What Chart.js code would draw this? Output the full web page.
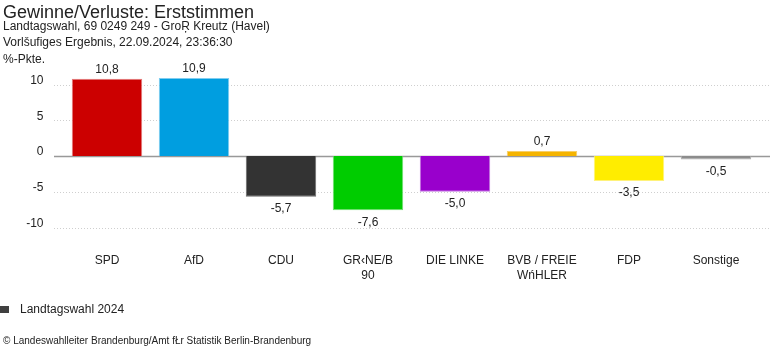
<!DOCTYPE html>
<html>
<head>
<meta charset="utf-8">
<script src="https://cdn.jsdelivr.net/npm/chart.js@4/dist/chart.umd.min.js"></script>
<style>
  body { margin: 0; background: #fff; }
  #wrap { width: 770px; height: 352px; position: relative; }
</style>
</head>
<body>
<div id="wrap"><canvas id="chart"></canvas></div>
<script>
// Chart data
const parties = ['SPD', 'AfD', 'CDU', ['GR‹NE/B', '90'], 'DIE LINKE', ['BVB / FREIE', 'WńHLER'], 'FDP', 'Sonstige'];
const changes = [10.8, 10.9, -5.7, -7.6, -5.0, 0.7, -3.5, -0.5];
const barColors = ['#cc0000', '#009ee0', '#333333', '#00cc00', '#9900cc', '#f5b400', '#ffed00', '#8c8c8c'];
const barBorders = ['#e37a7a', '#7fcdf0', '#6a6a6a', '#70e070', '#c070e0', '#f8cf66', '#fff27a', '#b0b0b0'];
const yTicks = [-10, -5, 0, 5, 10];

const titleText = 'Gewinne/Verluste: Erststimmen';
const subtitleLines = ['Landtagswahl, 69 0249 249 - GroŖ Kreutz (Havel)', 'Vorlšufiges Ergebnis, 22.09.2024, 23:36:30'];
const unitLabel = '%-Pkte.';
const seriesName = 'Landtagswahl 2024';
const sourceText = '© Landeswahlleiter Brandenburg/Amt fŁr Statistik Berlin-Brandenburg';

const FONT = "'Liberation Sans', Arial, sans-serif";

// grid lines run a bit wider than the bars area
const gridPlugin = {
  id: 'grid',
  beforeDatasetsDraw(chart) {
    const ctx = chart.ctx;
    const y = chart.scales.y;
    ctx.save();
    y.ticks.forEach(t => {
      const py = Math.round(y.getPixelForValue(t.value)) + 0.5;
      ctx.beginPath();
      if (t.value === 0) {
        ctx.setLineDash([]);
        ctx.strokeStyle = '#999';
        ctx.lineWidth = 1.5;
      } else {
        ctx.setLineDash([1, 2]);
        ctx.strokeStyle = '#cfcfcf';
        ctx.lineWidth = 1;
      }
      ctx.moveTo(54, py);
      ctx.lineTo(770, py);
      ctx.stroke();
    });
    ctx.restore();
  }
};

// texts: title, value labels, legend, source
const textPlugin = {
  id: 'texts',
  afterDraw(chart) {
    const ctx = chart.ctx;
    ctx.save();
    ctx.fillStyle = '#222';
    ctx.textAlign = 'left';
    ctx.textBaseline = 'alphabetic';
    ctx.font = '18px ' + FONT;
    ctx.fillText(titleText, 3, 17.5);
    ctx.font = '12px ' + FONT;
    ctx.fillText(subtitleLines[0], 3, 29.5);
    ctx.fillText(subtitleLines[1], 3, 45.5);
    ctx.fillText(unitLabel, 3, 63);

    // value labels
    ctx.textAlign = 'center';
    ctx.textBaseline = 'middle';
    const meta = chart.getDatasetMeta(0);
    meta.data.forEach((bar, i) => {
      const v = changes[i];
      const label = v.toFixed(1).replace('.', ',');
      const py = v >= 0 ? bar.y - 9 : bar.y + 12;
      ctx.fillText(label, bar.x, py);
    });

    // legend
    ctx.fillStyle = '#404040';
    ctx.fillRect(0, 306, 9, 7);
    ctx.fillStyle = '#222';
    ctx.textAlign = 'left';
    ctx.fillText(seriesName, 20, 310);

    // source
    ctx.font = '10px ' + FONT;
    ctx.fillText(sourceText, 3, 341);
    ctx.restore();
  }
};

new Chart(document.getElementById('chart'), {
  type: 'bar',
  data: {
    labels: parties,
    datasets: [{
      label: seriesName,
      data: changes,
      backgroundColor: barColors,
      borderColor: barBorders,
      borderWidth: 1,
      barPercentage: 0.9,
      categoryPercentage: 0.9
    }]
  },
  options: {
    responsive: true,
    maintainAspectRatio: false,
    animation: false,
    layout: { padding: { top: 70.2, right: 10.5, bottom: 0, left: 0 } },
    plugins: {
      legend: { display: false },
      title: { display: false },
      tooltip: { enabled: false }
    },
    scales: {
      x: {
        grid: { display: false, drawTicks: false },
        border: { display: false },
        ticks: {
          color: '#222',
          font: { family: FONT, size: 12 },
          padding: 12,
          maxRotation: 0,
          autoSkip: false
        },
        afterFit(scale) { scale.height = 110.2; }
      },
      y: {
        min: -12,
        max: 12,
        grid: { display: false, drawTicks: false },
        border: { display: false },
        afterBuildTicks(scale) {
          scale.ticks = yTicks.map(v => ({ value: v }));
        },
        ticks: {
          color: '#222',
          font: { family: FONT, size: 12 },
          padding: 20,
          labelOffset: -4,
          callback: v => String(v)
        },
        afterFit(scale) { scale.width = 63.5; }
      }
    }
  },
  plugins: [gridPlugin, textPlugin]
});
</script>
</body>
</html>
